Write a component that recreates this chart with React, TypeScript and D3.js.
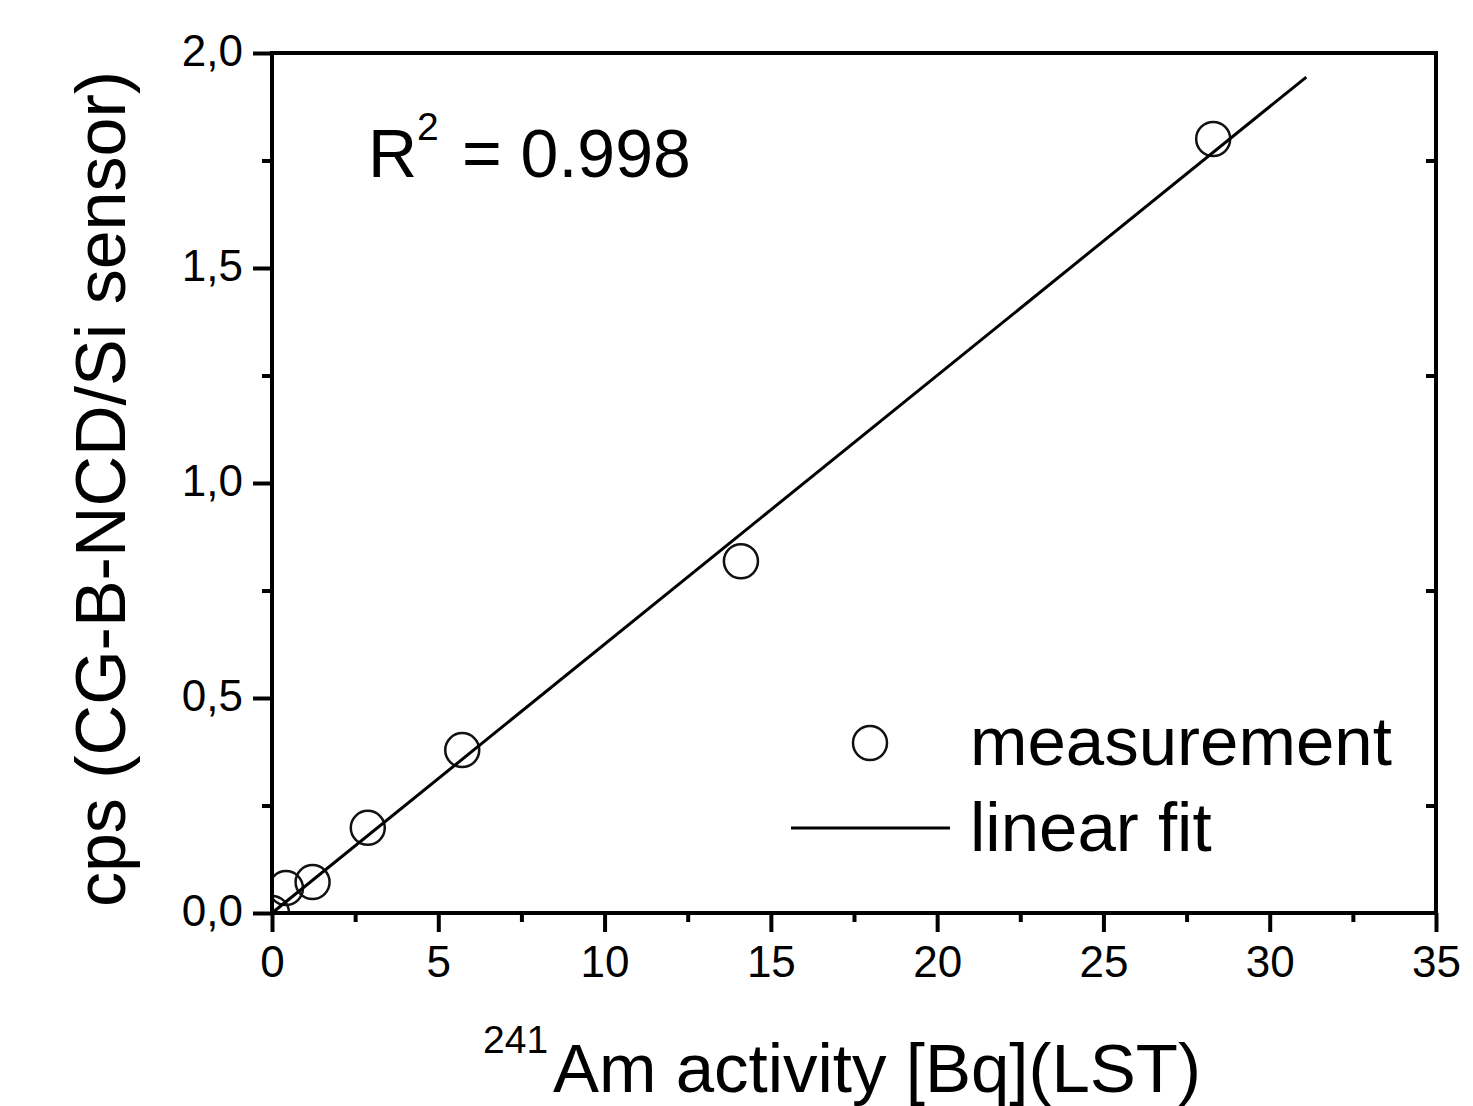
import React, { useEffect, useRef } from 'react';
import * as d3 from 'd3';

const activity = [0, 0.42, 1.22, 2.88, 5.72, 14.1, 28.3];
const cps = [0, 0.058, 0.072, 0.198, 0.379, 0.818, 1.8];

// end points of the linear fit
const fitActivity = [0, 31.1];
const fitCps = [0, 1.944];

const xMajor = [0, 5, 10, 15, 20, 25, 30, 35];
const xMinor = [2.5, 7.5, 12.5, 17.5, 22.5, 27.5, 32.5];
const yMajor = [0, 0.5, 1.0, 1.5, 2.0];
const yMinor = [0.25, 0.75, 1.25, 1.75];

const legendLabels = ['measurement', 'linear fit'];

const FONT = '"Liberation Sans", Arial, Helvetica, sans-serif';

const App: React.FC = () => {
  const svgRef = useRef<SVGSVGElement>(null);

  useEffect(() => {
    const svg = d3.select(svgRef.current);
    svg.selectAll('*').remove();

    const width = 1473;
    const height = 1106;
    const margin = { top: 53, right: 37, bottom: 193, left: 272 };
    const innerWidth = width - margin.left - margin.right;
    const innerHeight = height - margin.top - margin.bottom;

    const x = d3.scaleLinear().domain([0, 35]).range([0, innerWidth]);
    const y = d3.scaleLinear().domain([0, 2]).range([innerHeight, 0]);

    svg.attr('width', width).attr('height', height);

    svg.append('defs')
      .append('clipPath')
      .attr('id', 'plot-clip')
      .append('rect')
      .attr('width', innerWidth)
      .attr('height', innerHeight);

    const g = svg.append('g')
      .attr('transform', `translate(${margin.left},${margin.top})`);

    // Data points
    const pts = activity.map((a, i) => ({ a, c: cps[i] }));
    g.append('g')
      .attr('clip-path', 'url(#plot-clip)')
      .selectAll('circle')
      .data(pts)
      .enter().append('circle')
      .attr('cx', d => x(d.a))
      .attr('cy', d => y(d.c))
      .attr('r', 17)
      .style('fill', 'none')
      .style('stroke', '#111')
      .style('stroke-width', 2.5);

    // Linear fit
    const line = d3.line<number>()
      .x(d => x(d))
      .y((d, i) => y(fitCps[i]));
    g.append('path')
      .datum(fitActivity)
      .attr('d', line)
      .style('fill', 'none')
      .style('stroke', '#000')
      .style('stroke-width', 3);

    // Bottom axis
    const bottom = g.append('g').attr('transform', `translate(0,${innerHeight})`);
    bottom.append('g')
      .call(d3.axisBottom(x).tickValues(xMinor).tickSize(9).tickFormat(() => ''))
      .call(a => a.select('.domain').remove())
      .selectAll('line').style('stroke-width', 4);
    bottom.append('g')
      .call(d3.axisBottom(x).tickValues(xMajor).tickSize(19).tickPadding(14).tickFormat(d => String(d)))
      .call(a => a.select('.domain').remove())
      .call(a => a.selectAll('line').style('stroke-width', 4))
      .selectAll('text')
      .style('font-family', FONT)
      .style('font-size', '44px')
      .style('fill', '#000');

    // Left axis
    const left = g.append('g');
    left.append('g')
      .call(d3.axisLeft(y).tickValues(yMinor).tickSize(10).tickFormat(() => ''))
      .call(a => a.select('.domain').remove())
      .selectAll('line').style('stroke-width', 4);
    left.append('g')
      .call(d3.axisLeft(y).tickValues(yMajor).tickSize(19).tickPadding(10)
        .tickFormat(d => (d as number).toFixed(1).replace('.', ',')))
      .call(a => a.select('.domain').remove())
      .call(a => a.selectAll('line').style('stroke-width', 4))
      .selectAll('text')
      .attr('dy', '0.28em')
      .style('font-family', FONT)
      .style('font-size', '44px')
      .style('fill', '#000');

    // Right axis, minor ticks pointing inward
    g.append('g')
      .attr('transform', `translate(${innerWidth},0)`)
      .call(d3.axisLeft(y).tickValues(yMinor).tickSize(10).tickFormat(() => ''))
      .call(a => a.select('.domain').remove())
      .selectAll('line').style('stroke-width', 4);

    // Frame
    g.append('rect')
      .attr('width', innerWidth)
      .attr('height', innerHeight)
      .style('fill', 'none')
      .style('stroke', '#000')
      .style('stroke-width', 4);

    // R^2 annotation
    const ann = svg.append('g').style('font-family', FONT).style('fill', '#000');
    ann.append('text').attr('x', 368).attr('y', 177).style('font-size', '68px').text('R');
    ann.append('text').attr('x', 417).attr('y', 140).style('font-size', '39px').text('2');
    ann.append('text').attr('x', 462).attr('y', 177).style('font-size', '68px').text('= 0.998');

    // Legend
    const legend = svg.append('g').style('font-family', FONT).style('fill', '#000');
    legend.append('circle')
      .attr('cx', 870)
      .attr('cy', 743)
      .attr('r', 17)
      .style('fill', 'none')
      .style('stroke', '#111')
      .style('stroke-width', 2.5);
    legend.append('line')
      .attr('x1', 791).attr('x2', 950)
      .attr('y1', 828).attr('y2', 828)
      .style('stroke', '#000')
      .style('stroke-width', 3);
    legend.selectAll('text.leg')
      .data(legendLabels)
      .enter().append('text')
      .attr('class', 'leg')
      .attr('x', 970)
      .attr('y', (d, i) => 765 + i * 86)
      .style('font-size', '69px')
      .text(d => d);

    // X axis title
    const xt = svg.append('g').style('font-family', FONT).style('fill', '#000');
    xt.append('text').attr('x', 483).attr('y', 1053).style('font-size', '39px').text('241');
    xt.append('text').attr('x', 553).attr('y', 1092).style('font-size', '69px').text('Am activity [Bq](LST)');

    // Y axis title
    svg.append('text')
      .attr('transform', 'translate(125,489) rotate(-90)')
      .attr('text-anchor', 'middle')
      .style('font-family', FONT)
      .style('font-size', '70px')
      .style('fill', '#000')
      .text('cps (CG-B-NCD/Si sensor)');
  }, []);

  return (
    <div style={{ position: 'absolute', left: 0, top: 0, background: '#fff' }}>
      <svg ref={svgRef} style={{ display: 'block' }}></svg>
    </div>
  );
};

export default App;
